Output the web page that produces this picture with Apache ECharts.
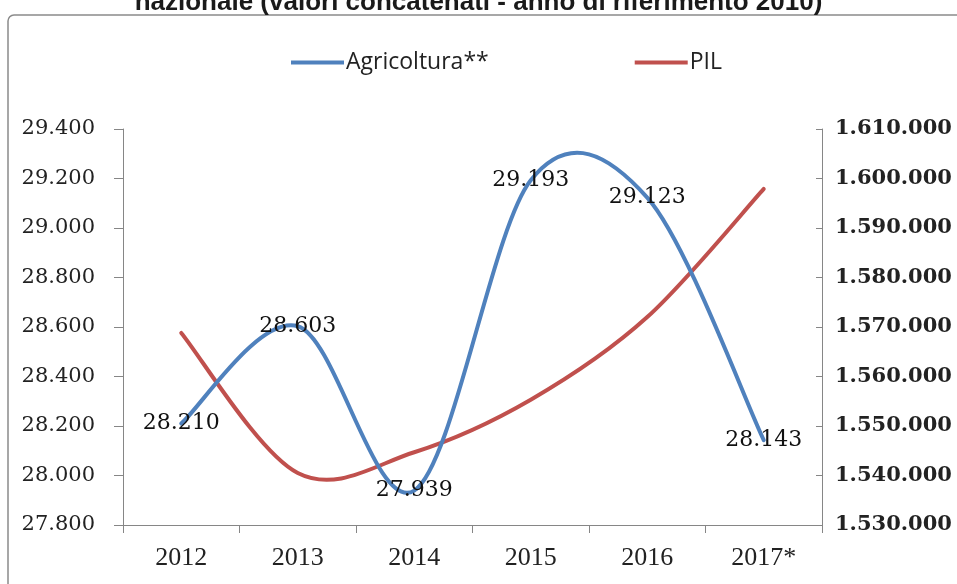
<!DOCTYPE html>
<html>
<head>
<meta charset="utf-8">
<script src="https://cdn.jsdelivr.net/npm/echarts@6/dist/echarts.min.js"></script>
<style>
  html, body { margin: 0; padding: 0; background: #fff; }
  #chart { width: 957px; height: 584px; }
</style>
</head>
<body>
<div id="chart"></div>
<script>
const years = ['2012', '2013', '2014', '2015', '2016', '2017*'];
const agricoltura = [28210, 28603, 27939, 29193, 29123, 28143];
const pil = [1568800, 1540500, 1544700, 1555300, 1572000, 1597900];
const titleText = 'nazionale (valori concatenati - anno di riferimento 2010)';

// separatore migliaia con il punto
const fmt = (n) => String(Math.round(n)).replace(/\B(?=(\d{3})+(?!\d))/g, '.');

// curva smussata tipo Excel (Catmull-Rom -> Bezier) sui punti già convertiti in pixel
const smoothPath = (pts) => {
  let d = 'M' + pts[0][0] + ' ' + pts[0][1];
  for (let i = 0; i < pts.length - 1; i++) {
    const p0 = pts[i - 1] || pts[i];
    const p1 = pts[i];
    const p2 = pts[i + 1];
    const p3 = pts[i + 2] || pts[i + 1];
    const c1 = [p1[0] + (p2[0] - p0[0]) / 6, p1[1] + (p2[1] - p0[1]) / 6];
    const c2 = [p2[0] - (p3[0] - p1[0]) / 6, p2[1] - (p3[1] - p1[1]) / 6];
    d += ' C' + c1[0] + ' ' + c1[1] + ' ' + c2[0] + ' ' + c2[1] + ' ' + p2[0] + ' ' + p2[1];
  }
  return d;
};

const makeRender = (values, color, withLabels) => (params, api) => {
  if (params.dataIndex !== 0) return null;
  const pts = values.map((v, i) => api.coord([i, v]));
  const children = [{
    type: 'path',
    shape: { pathData: smoothPath(pts) },
    style: { fill: 'none', stroke: color, lineWidth: 4, lineJoin: 'round', lineCap: 'round' }
  }];
  if (withLabels) {
    pts.forEach((p, i) => {
      children.push({
        type: 'text',
        x: p[0],
        y: p[1],
        z2: 10,
        style: {
          text: fmt(values[i]),
          fill: '#111',
          font: '22px "DejaVu Serif"',
          align: 'center',
          verticalAlign: 'middle'
        }
      });
    });
  }
  return { type: 'group', children };
};

const chart = echarts.init(document.getElementById('chart'));

const option = {
  animation: false,
  backgroundColor: '#fff',
  title: {
    text: titleText,
    left: 'center',
    top: -15,
    textStyle: { fontFamily: 'Liberation Sans', fontWeight: 'bold', fontSize: 26, color: '#1a1a1a' }
  },
  graphic: [
    {
      type: 'rect',
      shape: { x: 8, y: 15, width: 1000, height: 700, r: 6 },
      style: { fill: 'none', stroke: '#8a8a8a', lineWidth: 1.5 },
      silent: true
    }
  ],
  legend: {
    top: 46,
    left: 286,
    itemGap: 146,
    icon: 'rect',
    itemWidth: 53,
    itemHeight: 4,
    textStyle: { fontFamily: 'Open Sans', fontSize: 23, color: '#222', padding: [0, 0, 0, -3] },
    data: ['Agricoltura**', 'PIL']
  },
  grid: { left: 123, right: 135, top: 129, bottom: 59 },
  xAxis: {
    type: 'category',
    data: years,
    boundaryGap: true,
    axisLine: { lineStyle: { color: '#868686', width: 1 } },
    axisTick: { show: true, length: 8, lineStyle: { color: '#868686' } },
    axisLabel: { fontFamily: 'Liberation Serif', fontSize: 26, color: '#222', margin: 20 },
    splitLine: { show: false }
  },
  yAxis: [
    {
      type: 'value',
      min: 27800,
      max: 29400,
      interval: 200,
      position: 'left',
      axisLine: { show: true, lineStyle: { color: '#868686' } },
      axisTick: { show: true, length: 9, lineStyle: { color: '#868686' } },
      axisLabel: { fontFamily: 'DejaVu Serif', fontSize: 21, color: '#222', margin: 28, formatter: fmt },
      splitLine: { show: false }
    },
    {
      type: 'value',
      min: 1530000,
      max: 1610000,
      interval: 10000,
      position: 'right',
      axisLine: { show: true, lineStyle: { color: '#868686' } },
      axisTick: { show: true, inside: true, length: 6, lineStyle: { color: '#868686' } },
      axisLabel: { fontFamily: 'DejaVu Serif', fontWeight: 'bold', fontSize: 21, color: '#222', margin: 13, formatter: fmt },
      splitLine: { show: false }
    }
  ],
  series: [
    {
      name: 'PIL',
      type: 'custom',
      yAxisIndex: 1,
      data: pil.map((v, i) => [i, v]),
      itemStyle: { color: '#c0504d' },
      renderItem: makeRender(pil, '#c0504d', false),
      clip: false,
      z: 2
    },
    {
      name: 'Agricoltura**',
      type: 'custom',
      yAxisIndex: 0,
      data: agricoltura.map((v, i) => [i, v]),
      itemStyle: { color: '#4f81bd' },
      renderItem: makeRender(agricoltura, '#4f81bd', true),
      clip: false,
      z: 3
    }
  ]
};

chart.setOption(option);
</script>
</body>
</html>
